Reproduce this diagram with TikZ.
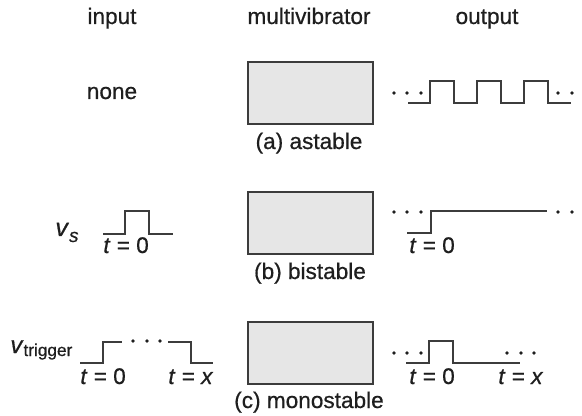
\documentclass[tikz,border=0pt]{standalone}
\usepackage{fontspec}
\setmainfont{Liberation Sans}[FakeBold=0.6, ItalicFeatures={FakeBold=0.6}]
\usetikzlibrary{positioning}
\definecolor{boxgray}{HTML}{E6E6E6}
\definecolor{wavegray}{HTML}{3C3C3C}
\definecolor{txt}{HTML}{1E1E1E}

\begin{document}
\begin{tikzpicture}[
            x=0.5pt, y=-0.5pt,
            mvbox/.style={draw=wavegray, fill=boxgray, line width=1pt, minimum width=62.5pt, minimum height=31pt, inner sep=0pt},
            lbl/.style={font=\fontsize{11.3}{13}\selectfont, text=txt, inner sep=0pt, anchor=base},
            tlbl/.style={lbl, anchor=base west},
            wave/.style={draw=wavegray, line width=1.1pt, line join=miter}
        ]
            \useasboundingbox (0,0) rectangle (582,416);

            % column heads
            \node[lbl] (hin) at (112,24) {input};
            \node[lbl] (hmv) at (309,24) {multivibrator};
            \node[lbl] (hout) at (487,24) {output};

            % the three multivibrators
            \node[mvbox] (boxa) at (310,93) {};
            \node[mvbox] (boxb) at (310,223) {};
            \node[mvbox] (boxc) at (310,353) {};
            \node[lbl] (capa) at (309,149) {(a) astable};
            \node[lbl] (capb) at (310,279) {(b) bistable};
            \node[lbl] (capc) at (309,408) {(c) monostable};

            % (a) astable
            \node[lbl] (none) at (112,99) {none};
            \draw[wave] (408,103) -- (430,103) -- (430,81) -- (454,81) -- (454,103)
                -- (477,103) -- (477,81) -- (501,81) -- (501,103)
                -- (524,103) -- (524,81) -- (548,81) -- (548,103) -- (571,103);
            \foreach \x in {394,407,421,558,572}
                \fill[txt] (\x,93) circle (0.9pt);

            % (b) bistable
            \node[tlbl] (vs) at (55,236) {\fontsize{12.5}{13}\selectfont\textit{v}\raisebox{-3pt}{\fontsize{9.5}{10}\selectfont\itshape s}};
            \draw[wave] (103,234) -- (125,234) -- (125,211) -- (149,211) -- (149,234) -- (173,234);
            \node[tlbl] (tbin) at (103,253) {\textit{t} = 0};
            \draw[wave] (407,233) -- (431,233) -- (431,211) -- (547,211);
            \foreach \x in {394,407,421,558,572}
                \fill[txt] (\x,212) circle (0.9pt);
            \node[tlbl] (tbout) at (409,253) {\textit{t} = 0};

            % (c) monostable
            \node[tlbl] (vtrig) at (10,353) {\fontsize{12}{13}\selectfont\textit{v}\raisebox{-1.5pt}{\fontsize{8.6}{10}\selectfont trigger}};
            \draw[wave] (80,363) -- (103,363) -- (103,342) -- (122,342);
            \draw[wave] (168,342) -- (191,342) -- (191,363) -- (213,363);
            \foreach \x in {133,147,160}
                \fill[txt] (\x,341) circle (0.9pt);
            \node[tlbl] (tcin0) at (80,384) {\textit{t} = 0};
            \node[tlbl] (tcinx) at (168,384) {\textit{t} = \textit{x}};
            \draw[wave] (406,363) -- (429,363) -- (429,341) -- (453,341) -- (453,363) -- (520,363);
            \foreach \x in {394,407,421,507,521,534}
                \fill[txt] (\x,353) circle (0.9pt);
            \node[tlbl] (tcout0) at (409,384) {\textit{t} = 0};
            \node[tlbl] (tcoutx) at (498,384) {\textit{t} = \textit{x}};
        \end{tikzpicture}
\end{document}
